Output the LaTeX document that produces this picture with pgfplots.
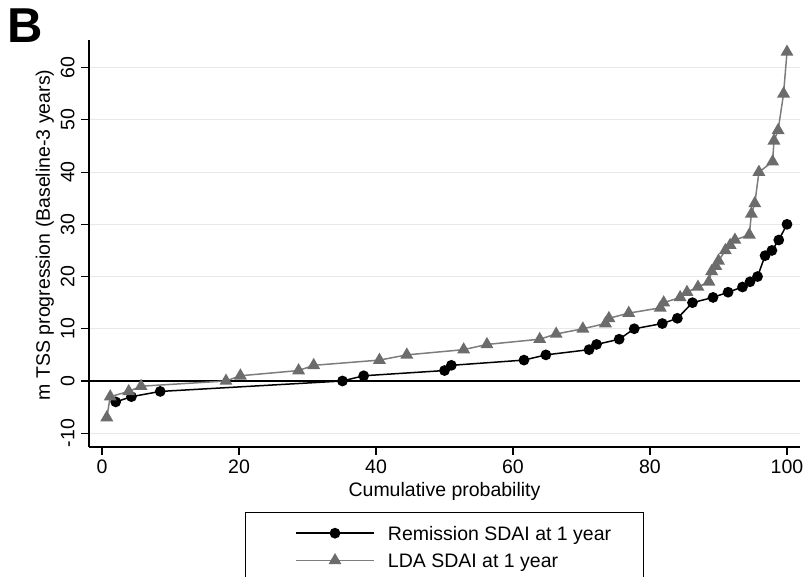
\documentclass[border=0pt]{standalone}
\usepackage{pgfplots}
\pgfplotsset{compat=1.18}
\usepackage{fontspec}
\setmainfont{Liberation Sans}
\definecolor{ldagray}{RGB}{108,108,108}
\definecolor{ldaline}{RGB}{125,125,125}
\definecolor{gridgray}{RGB}{232,232,232}
\newcommand{\fs}{\fontsize{19.5}{23}\selectfont}
\begin{document}
\begin{tikzpicture}
\begin{axis}[
  scale only axis,
  width=711pt, height=407pt,
  xmin=-1.9, xmax=101.9,
  ymin=-12.64, ymax=65.3,
  axis x line*=bottom, axis y line*=left,
  axis line style={-, line width=1.2pt, black},
  tick align=outside,
  major tick length=8pt,
  tick style={line width=1.2pt, black},
  xtick={0,20,40,60,80,100},
  xticklabels={0,20,40,60,80,100},
  ytick={-10,0,10,20,30,40,50,60},
  yticklabels={-10,0,10,20,30,40,50,60},
  ticklabel style={font=\fs},
  xticklabel style={yshift=-1pt},
  yticklabel style={xshift=-3pt, rotate=90, anchor=south},
  ymajorgrids,
  grid style={color=gridgray, line width=1.2pt},
  xlabel={Cumulative probability},
  ylabel={m TSS progression (Baseline-3 years)},
  label style={font=\fs},
  xlabel style={at={(axis description cs:0.5,-0.1204)}, anchor=base},
  ylabel style={at={(axis description cs:-0.0549,0.521)}, rotate=0, anchor=base},
  legend style={at={(axis description cs:0.2194,-0.1597)}, anchor=north west,
    draw=black, line width=1pt, inner xsep=0pt, inner ysep=13.7pt,
    column sep=13.4pt, row sep=13.3pt,
    nodes={inner sep=0pt, text height=14pt, text depth=0pt, font=\fs}},
  legend cell align=left,
  legend image code/.code={
    \path[draw=none] (0pt,0pt) -- (50.7pt,0pt);
    \draw[mark repeat=2, mark phase=2, #1] plot coordinates {(50.7pt,0pt) (89.5pt,0pt) (128.3pt,0pt)};
  },
]
\addplot[black, line width=1.5pt, forget plot] coordinates {(-1.9,0) (101.9,0)};
\addplot[black, line width=1.5pt, mark=*, mark size=4.6pt] coordinates {
(2.0,-4) (4.3,-3) (8.5,-2) (35.1,0) (38.2,1) (50,2) (51,3) (61.6,4) (64.8,5)
(71.1,6) (72.2,7) (75.5,8) (77.7,10) (81.8,11) (84,12) (86.2,15) (89.2,16)
(91.4,17) (93.5,18) (94.6,19) (95.7,20) (96.8,24) (97.8,25) (98.8,27) (100,30)
};
\addlegendentry{\makebox[256pt][l]{Remission SDAI at 1 year}}
\addplot[ldaline, line width=1.5pt, mark=triangle*, mark size=6pt,
  mark options={fill=ldagray, draw=ldagray}] coordinates {
(0.7,-7) (1.2,-3) (3.9,-2) (5.7,-1) (18.1,0) (20.2,1) (28.7,2) (30.9,3)
(40.5,4) (44.5,5) (52.8,6) (56.2,7) (63.9,8) (66.3,9) (70.2,10) (73.5,11)
(74,12) (76.9,13) (81.5,14) (82,15) (84.4,16) (85.4,17) (87,18) (88.6,19)
(89,21) (89.6,22) (90,23) (91,25) (91.7,26) (92.4,27) (94.5,28) (94.8,32)
(95.3,34) (95.9,40) (97.9,42) (98.1,46) (98.7,48) (99.5,55) (100,63)
};
\addlegendentry{\makebox[256pt][l]{LDA SDAI at 1 year}}
\end{axis}
\node[anchor=base west, inner sep=0pt, font=\fontsize{49}{49}\selectfont\bfseries] at (-82pt,404pt) {B};
\pgfresetboundingbox
\useasboundingbox (-89pt,-130pt) rectangle (719pt,447pt);
\end{tikzpicture}
\end{document}
